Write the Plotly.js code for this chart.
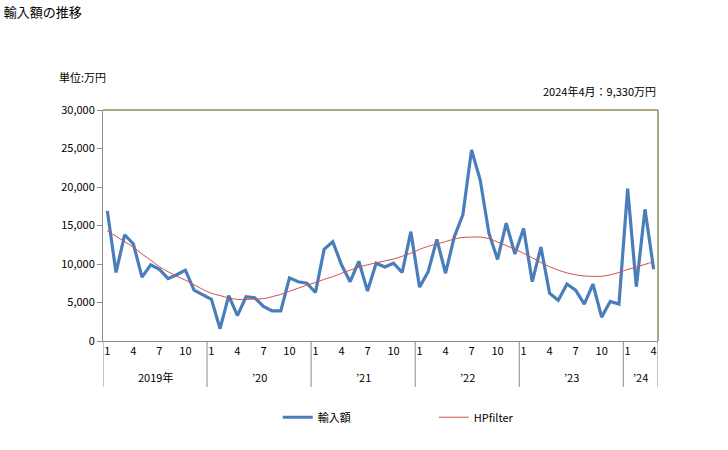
<!DOCTYPE html>
<html><head><meta charset="utf-8">
<script src="https://cdn.plot.ly/plotly-3.0.1.min.js"></script>
<style>html,body{margin:0;padding:0;background:#fff}#chart{width:728px;height:450px}</style>
</head><body><div id="chart"></div>
<script>
const months = Array.from({length:64},(_,i)=>i+1);
const imports = [16900,8900,13800,12600,8300,9900,9300,8100,8600,9200,6600,6000,
 5400,1600,5900,3300,5750,5600,4500,3900,3900,8200,7700,7500,
 6300,11900,12900,9900,7700,10350,6500,10100,9600,10100,8900,14200,
 7000,9000,13200,8800,13500,16400,24800,20900,14000,10600,15300,11300,
 14600,7700,12200,6200,5300,7400,6600,4800,7400,3100,5150,4800,
 19800,7050,17100,9330];
const hp = [14300,13600,12900,12200,11300,10500,9650,9000,8400,7900,7300,6700,
 6200,5900,5600,5400,5400,5450,5500,5750,6050,6450,6850,7250,
 7600,8000,8350,8800,9200,9600,9900,10150,10400,10650,11000,11400,
 11900,12300,12600,12900,13250,13450,13500,13500,13300,12850,12400,11900,
 11400,10800,10200,9650,9200,8850,8600,8450,8400,8400,8600,8900,
 9300,9600,9950,10300];
const tickPos = [1,4,7,10,13,16,19,22,25,28,31,34,37,40,43,46,49,52,55,58,61,64];
const tickText = ['1','4','7','10','1','4','7','10','1','4','7','10','1','4','7','10','1','4','7','10','1','4'];
const yearLabels = ['2019年','’20','’21','’22','’23','’24'];
const yearCenters = [6.5,18.5,30.5,42.5,54.5,62.5];
const separators = [0.5,12.5,24.5,36.5,48.5,60.5,64.5];

const F = '"Noto Sans CJK JP", "Noto Sans", sans-serif';
const shapes = separators.map(x=>({type:'line',xref:'x',yref:'paper',x0:x,x1:x,y0:0,y1:-0.199,line:{color:'#8c8c8c',width:1}}));
shapes.push({type:'line',xref:'paper',yref:'paper',x0:0,x1:1,y0:1,y1:1,line:{color:'#948a54',width:1.5}});
shapes.push({type:'line',xref:'paper',yref:'paper',x0:1,x1:1,y0:0,y1:1,line:{color:'#948a54',width:1.5}});

const annotations = yearLabels.map((t,i)=>({text:t,x:yearCenters[i],xref:'x',y:-0.156,yref:'paper',showarrow:false,font:{family:F,size:11,color:'#000'},xanchor:'center',yanchor:'middle'}));
annotations.push({text:'単位:万円',xref:'paper',yref:'paper',x:-0.083,y:1.143,xanchor:'left',yanchor:'middle',showarrow:false,font:{family:F,size:11,color:'#000'}});
annotations.push({text:'2024年4月：9,330万円',xref:'paper',yref:'paper',x:1,y:1.084,xanchor:'right',yanchor:'middle',showarrow:false,font:{family:F,size:11,color:'#000'}});

const data = [
 {x:months,y:imports,type:'scatter',mode:'lines',name:'輸入額',line:{color:'#4a7ebb',width:3.2}},
 {x:months,y:hp,type:'scatter',mode:'lines',name:'HPfilter',line:{color:'#d0504d',width:1,shape:'spline'}}
];
const layout = {
 width:728,height:450,
 margin:{l:103,r:70,t:110,b:109},
 paper_bgcolor:'#fff',plot_bgcolor:'#fff',
 title:{text:'輸入額の推移',x:0.005,xanchor:'left',y:0.973,yanchor:'middle',font:{family:F,size:13,color:'#000'}},
 font:{family:F,size:11,color:'#000'},
 showlegend:true,
 legend:{orientation:'h',x:0.596,xanchor:'center',y:-0.33,yanchor:'middle',font:{family:F,size:11,color:'#000'},entrywidth:111,entrywidthmode:'pixels',itemwidth:30},
 xaxis:{range:[0.5,64.5],tickmode:'array',tickvals:tickPos,ticktext:tickText,showgrid:false,zeroline:false,showline:true,linecolor:'#8c8c8c',linewidth:1,ticks:'',tickfont:{family:F,size:11,color:'#000'},fixedrange:true},
 yaxis:{range:[0,30000],tickmode:'array',tickvals:[0,5000,10000,15000,20000,25000,30000],ticktext:['0','5,000','10,000','15,000','20,000','25,000','30,000'],showgrid:false,zeroline:false,showline:true,linecolor:'#8c8c8c',linewidth:1,ticks:'outside',ticklen:5,tickcolor:'#8c8c8c',tickfont:{family:F,size:11,color:'#000'}},
 shapes:shapes,annotations:annotations
};
Plotly.newPlot('chart',data,layout,{displayModeBar:false,staticPlot:true});
</script></body></html>
